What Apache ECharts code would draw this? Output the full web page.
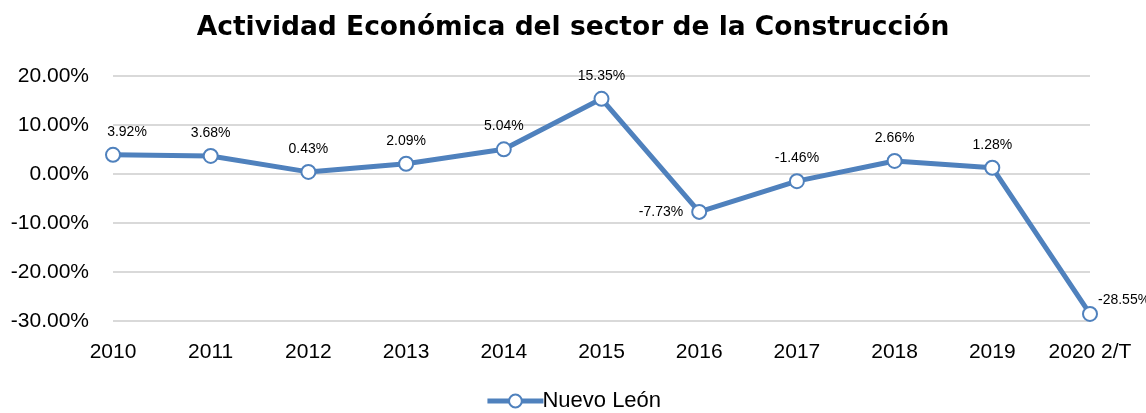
<!DOCTYPE html>
<html>
<head>
<meta charset="utf-8">
<script src="https://cdn.jsdelivr.net/npm/echarts@6/dist/echarts.min.js"></script>
<style>
  html, body { margin: 0; padding: 0; background: #fff; }
  #chart { width: 1146px; height: 413px; }
</style>
</head>
<body>
<div id="chart"></div>
<script>
// categorias y valores (%)
const years = ['2010', '2011', '2012', '2013', '2014', '2015', '2016', '2017', '2018', '2019', '2020 2/T']
const nuevoLeon = [3.92, 3.68, 0.43, 2.09, 5.04, 15.35, -7.73, -1.46, 2.66, 1.28, -28.55]

const font = '"Liberation Sans", Arial, sans-serif'
const blue = '#4f81bd'

// etiquetas especiales: primera corrida a la derecha, 2016 a la izquierda, ultima a la derecha
const points = nuevoLeon.map((v, i) => {
  if (i === 0) return { value: v, label: { offset: [14, 0] } }
  if (i === 6) return { value: v, label: { position: 'left', distance: 8 } }
  if (i === nuevoLeon.length - 1) return { value: v, label: { position: 'right', offset: [-8, -14] } }
  return v
})

let myChart = echarts.init(document.getElementById('chart'))
myChart.setOption({
  animation: false,
  title: {
    text: 'Actividad Económica del sector de la Construcción',
    left: 'center',
    top: 10,
    textStyle: { fontFamily: '"DejaVu Sans", sans-serif', fontSize: 26.5, fontWeight: 'bold', color: '#000' },
  },
  legend: {
    bottom: -4,
    left: 'center',
    itemWidth: 56,
    itemHeight: 16,
    itemGap: 4,
    textStyle: { fontFamily: font, fontSize: 22, color: '#000', padding: [0, 0, 0, -6] },
    data: [
      {
        name: 'Nuevo León',
        lineStyle: { width: 5 },
        itemStyle: { color: '#fff', borderColor: blue, borderWidth: 2 },
      },
    ],
  },
  grid: { left: 113, right: 56, top: 76, bottom: 92 },
  xAxis: {
    type: 'category',
    boundaryGap: false,
    data: years,
    axisLine: { show: false },
    axisTick: { show: false },
    axisLabel: { fontFamily: font, fontSize: 21, color: '#000', margin: 21, interval: 0 },
  },
  yAxis: {
    type: 'value',
    min: -30,
    max: 20,
    interval: 10,
    axisLabel: {
      fontFamily: font,
      fontSize: 21,
      color: '#000',
      margin: 24,
      formatter: v => v.toFixed(2) + '%',
    },
    splitLine: { lineStyle: { color: '#d9d9d9', width: 2 } },
  },
  series: [
    {
      name: 'Nuevo León',
      type: 'line',
      data: points,
      symbol: 'circle',
      symbolSize: 14,
      itemStyle: { color: '#fff', borderColor: blue, borderWidth: 2 },
      lineStyle: { color: blue, width: 5 },
      label: {
        show: true,
        position: 'top',
        distance: 8,
        fontFamily: font,
        fontSize: 14,
        color: '#000',
        formatter: p => p.value.toFixed(2) + '%',
      },
    },
  ],
})
</script>
</body>
</html>
